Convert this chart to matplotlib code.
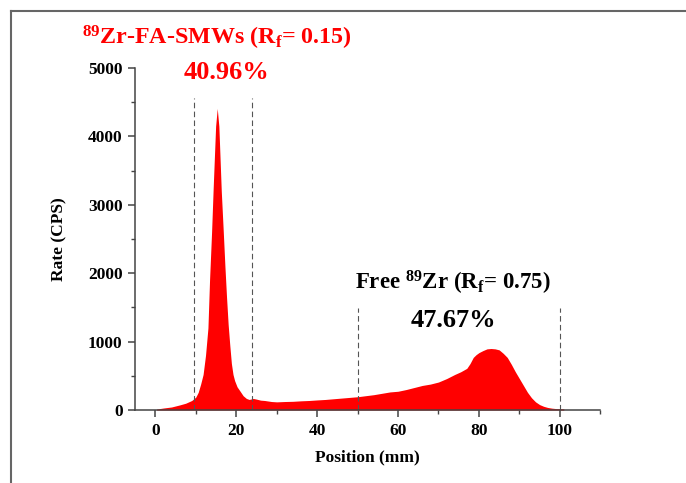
import matplotlib
matplotlib.use('Agg')
import matplotlib.pyplot as plt
from matplotlib.lines import Line2D
from matplotlib.ticker import MultipleLocator

plt.rcParams['font.family'] = ['Liberation Serif', 'DejaVu Serif']
plt.rcParams['font.weight'] = 'bold'
plt.rcParams['mathtext.fontset'] = 'custom'
plt.rcParams['mathtext.rm'] = 'Liberation Serif:bold'
plt.rcParams['mathtext.bf'] = 'Liberation Serif:bold'
plt.rcParams['mathtext.it'] = 'Liberation Serif:bold'

# radio-TLC scan (position in mm, rate in CPS)
position = [0.3, 2, 4, 6, 7.5, 9, 10, 10.6, 11.2, 11.8, 12.4, 13.0, 13.4, 13.9,
            14.3, 14.9, 15.3, 15.7, 16.3, 16.8, 17.2, 17.6, 18.0, 18.4, 18.8,
            19.2, 19.6, 20.2, 20.9, 21.7, 22.5, 23.2, 24.2, 25, 26, 27, 28.7,
            30, 32, 34, 36, 38, 40, 42, 44, 46, 48, 50, 52, 54, 56, 58, 60, 62,
            64, 66, 68, 70, 72, 74, 75.5, 77, 77.8, 78.6, 79.3, 80, 81, 82, 83,
            84, 85, 86, 87, 88, 89, 90, 91, 92, 93, 94, 95, 96, 97, 98, 99, 100, 101]
rate = [15, 30, 45, 75, 100, 140, 190, 260, 380, 520, 800, 1200, 1900, 2600,
        3250, 4150, 4410, 4150, 3200, 2600, 2100, 1650, 1250, 950, 680,
        520, 430, 340, 280, 210, 170, 155, 170, 160, 145, 140, 125,
        120, 125, 128, 135, 140, 148, 155, 165, 175, 185, 195, 210, 225, 245, 265, 275, 300,
        330, 360, 380, 410, 460, 520, 560, 610, 680, 770, 810, 840, 870, 895, 900,
        895, 880, 830, 770, 670, 560, 460, 360, 260, 180, 120, 80, 55, 38, 28, 22, 20, 18]

# integration regions
peak_bounds = [9.5, 24.0]
free_bounds = [50.0, 100.0]
peak_label = r'$^{89}$Zr-FA-SMWs (R$_{\mathbf{f}}$= 0.15)'
peak_pct = '40.96%'
free_label = r'Free $^{89}$Zr (R$_{\mathbf{f}}$= 0.75)'
free_pct = '47.67%'

fig = plt.figure(figsize=(6.86, 4.83), dpi=100)
ax = fig.add_axes([0.197, 0.151, 0.678, 0.708])

ax.fill_between(position, rate, 0, color='#ff0000', lw=0)

for xv in peak_bounds:
    ax.plot([xv, xv], [0, 4570], ls=(0, (5, 3)), color='#555555', lw=0.8)
for xv in free_bounds:
    ax.plot([xv, xv], [0, 1490], ls=(0, (5, 3)), color='#555555', lw=0.8)

ax.set_xlim(-5, 110)
ax.set_ylim(0, 5000)
ax.xaxis.set_major_locator(MultipleLocator(20))
ax.xaxis.set_minor_locator(MultipleLocator(10))
ax.yaxis.set_major_locator(MultipleLocator(1000))
ax.yaxis.set_minor_locator(MultipleLocator(500))
ax.spines['top'].set_visible(False)
ax.spines['right'].set_visible(False)
for s in ['left', 'bottom']:
    ax.spines[s].set_color('#444444')
    ax.spines[s].set_linewidth(1.1)
ax.tick_params(which='major', direction='out', length=5, width=1.1, color='#444444',
               labelsize=12.5, pad=4)
ax.tick_params(which='minor', direction='out', length=3, width=1.0, color='#444444')
for lab in ax.get_xticklabels() + ax.get_yticklabels():
    lab.set_fontweight('bold')

ax.set_xlabel('Position (mm)', fontsize=12.5, fontweight='bold', labelpad=8)
ax.set_ylabel('Rate (CPS)', fontsize=12.5, fontweight='bold', labelpad=15)

ax.text(15.3, 5440, peak_label, color='#ff0000', fontsize=17.3, fontweight='bold',
        ha='center', va='center', clip_on=False)
ax.text(17.6, 4940, peak_pct, color='#ff0000', fontsize=19, fontweight='bold',
        ha='center', va='center', clip_on=False)
ax.text(73.6, 1860, free_label, color='black', fontsize=16.5, fontweight='bold',
        ha='center', va='center')
ax.text(73.8, 1310, free_pct, color='black', fontsize=19, fontweight='bold',
        ha='center', va='center')

# frame around the picture (only left and top edges visible)
fig.add_artist(Line2D([11 / 686, 11 / 686], [0, 1 - 11 / 483], transform=fig.transFigure,
                      color='#666666', lw=1.5))
fig.add_artist(Line2D([11 / 686, 1], [1 - 11 / 483, 1 - 11 / 483], transform=fig.transFigure,
                      color='#666666', lw=1.5))

fig.savefig('out.png', dpi=100)
